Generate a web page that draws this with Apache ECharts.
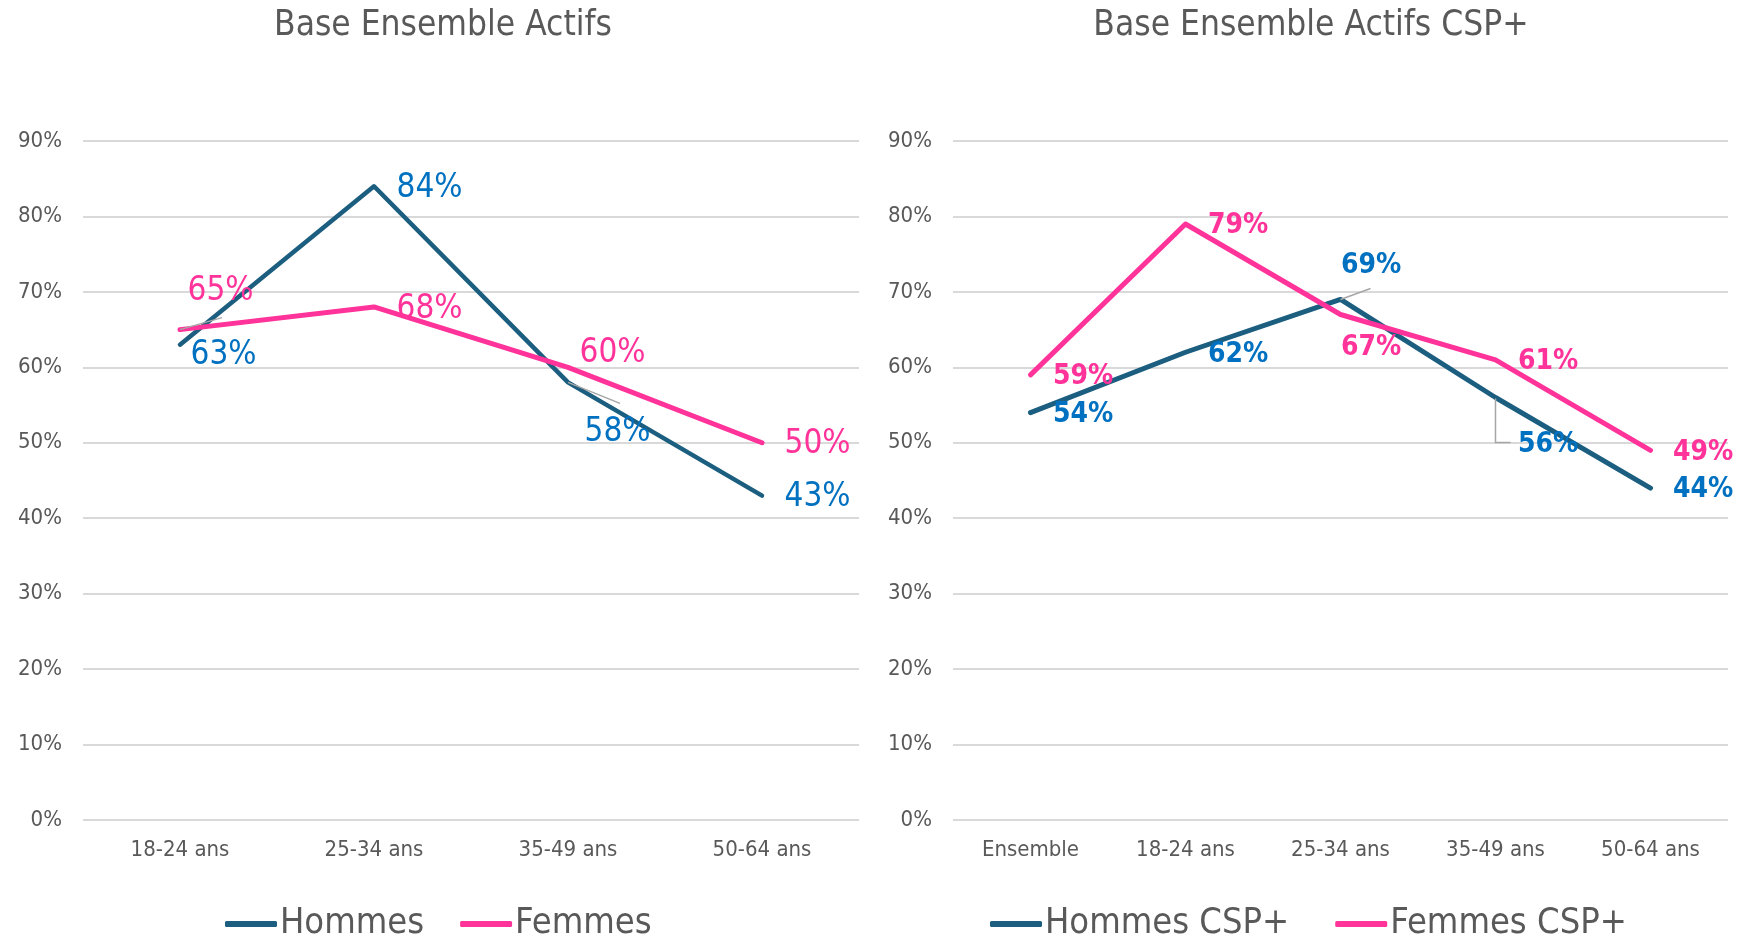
<!DOCTYPE html>
<html>
<head>
<meta charset="utf-8">
<script src="https://cdn.jsdelivr.net/npm/echarts@6/dist/echarts.min.js"></script>
<style>
  html, body { margin: 0; padding: 0; background: #ffffff; }
  #chart { width: 1738px; height: 940px; }
</style>
</head>
<body>
<div id="chart"></div>
<script>
// Categories
const ageCats = ['18-24 ans', '25-34 ans', '35-49 ans', '50-64 ans'];
const cspCats = ['Ensemble', '18-24 ans', '25-34 ans', '35-49 ans', '50-64 ans'];

// Series values (%)
const hommes = [63, 84, 58, 43];
const femmes = [65, 68, 60, 50];
const hommesCsp = [54, 62, 69, 56, 44];
const femmesCsp = [59, 79, 67, 61, 49];

// Titles and legend names
const titles = ['Base Ensemble Actifs', 'Base Ensemble Actifs CSP+'];
const names = ['Hommes', 'Femmes', 'Hommes CSP+', 'Femmes CSP+'];

// Y axis ticks
const yMin = 0, yMax = 90, yStep = 10;

const FONT = "'Liberation Sans Narrow', 'DejaVu Sans Condensed', 'Roboto', sans-serif";
const GREY = '#595959';
const NAVY = '#1b5e7f';
const PINK = '#ff3399';
const LBLUE = '#0070c0';

// Label nudges per series (dx, dy relative to a label sitting right of its point)
const nudges = [
  { 0: [-12, 9], 2: [-6, 48] },
  { 0: [-15, -40], 2: [-11, -16] },
  { 2: [-22, -36], 3: [0, 45] },
  { 2: [-22, 31] }
];
const baseDy = 2;

const chart = echarts.init(document.getElementById('chart'), null, { renderer: 'canvas' });

function yAxis(gridIndex) {
  return {
    type: 'value', gridIndex, min: yMin, max: yMax, interval: yStep,
    axisLine: { show: false }, axisTick: { show: false },
    axisLabel: { formatter: '{value}%', color: GREY, fontFamily: FONT, fontSize: 22, margin: 21 },
    splitLine: { lineStyle: { color: '#d9d9d9', width: 2 } }
  };
}
function xAxis(gridIndex, cats) {
  return {
    type: 'category', gridIndex, data: cats, boundaryGap: true,
    axisLine: { show: false }, axisTick: { show: false },
    axisLabel: { color: GREY, fontFamily: FONT, fontSize: 22, margin: 19 }
  };
}
function lineSeries(idx, name, values, color, width, labelColor, bold, fontSize, axisIdx) {
  return {
    type: 'line', name, data: values,
    xAxisIndex: axisIdx, yAxisIndex: axisIdx,
    symbol: 'circle', symbolSize: 1, showSymbol: true,
    itemStyle: { color },
    lineStyle: { color, width, cap: 'round', join: 'round' },
    z: idx === 1 || idx === 3 ? 3 : 2,
    label: {
      show: true, position: 'right', distance: 22,
      formatter: p => p.value + '%',
      color: labelColor, fontFamily: FONT, fontSize,
      fontWeight: bold ? 'bold' : 'normal'
    },
    labelLayout: p => {
      const n = nudges[idx][p.dataIndex] || [0, 0];
      return { dx: n[0], dy: n[1] + baseDy };
    },
    emphasis: { disabled: true }
  };
}

const option = {
  animation: false,
  backgroundColor: '#ffffff',
  title: [
    { text: titles[0], left: 438, top: 3, textAlign: 'center',
      textStyle: { color: GREY, fontFamily: FONT, fontSize: 35, fontWeight: 'normal' } },
    { text: titles[1], left: 1306, top: 3, textAlign: 'center',
      textStyle: { color: GREY, fontFamily: FONT, fontSize: 35, fontWeight: 'normal' } }
  ],
  legend: [
    { data: [names[0], names[1]], left: 220, top: 901, icon: 'roundRect',
      itemWidth: 52, itemHeight: 6, itemGap: 36,
      textStyle: { color: GREY, fontFamily: FONT, fontSize: 36, padding: [0, 0, 0, -2] } },
    { data: [names[2], names[3]], left: 985, top: 901, icon: 'roundRect',
      itemWidth: 52, itemHeight: 6, itemGap: 46,
      textStyle: { color: GREY, fontFamily: FONT, fontSize: 36, padding: [0, 0, 0, -2] } }
  ],
  grid: [
    { left: 83, top: 141, width: 776, height: 679 },
    { left: 953, top: 141, width: 775, height: 679 }
  ],
  xAxis: [xAxis(0, ageCats), xAxis(1, cspCats)],
  yAxis: [yAxis(0), yAxis(1)],
  series: [
    lineSeries(0, names[0], hommes, NAVY, 4.5, LBLUE, false, 33, 0),
    lineSeries(1, names[1], femmes, PINK, 5, PINK, false, 33, 0),
    lineSeries(2, names[2], hommesCsp, NAVY, 5, LBLUE, true, 28, 1),
    lineSeries(3, names[3], femmesCsp, PINK, 5, PINK, true, 28, 1)
  ]
};
chart.setOption(option);

// Thin grey leader lines from selected points towards their moved labels
function leader(gridIdx, cat, value, pts) {
  const p = chart.convertToPixel({ gridIndex: gridIdx }, [cat, value]);
  return {
    type: 'polyline', silent: true, z: 10,
    shape: { points: pts.map(d => [p[0] + d[0], p[1] + d[1]]) },
    style: { stroke: '#a6a6a6', lineWidth: 1.5, fill: null }
  };
}
chart.setOption({
  graphic: [
    leader(0, ageCats[0], femmes[0], [[0, 0], [42, -12]]),
    leader(0, ageCats[2], hommes[2], [[0, 0], [52, 21]]),
    leader(1, cspCats[2], hommesCsp[2], [[0, 0], [30, -11]]),
    leader(1, cspCats[3], hommesCsp[3], [[0, 1], [0, 45], [15, 45]])
  ]
});
</script>
</body>
</html>
